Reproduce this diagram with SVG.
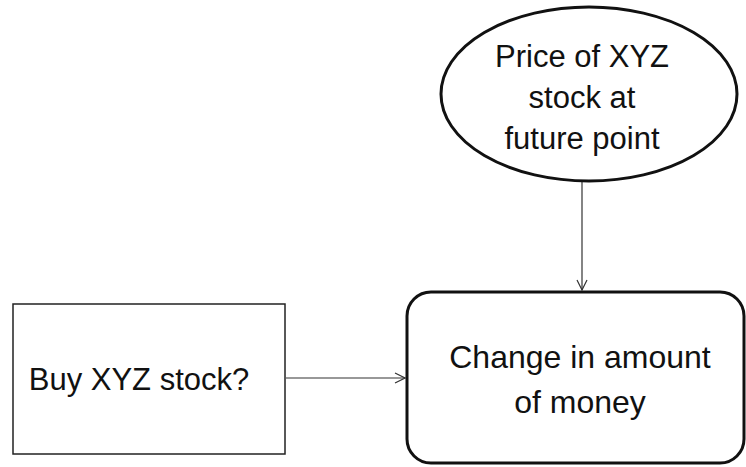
<svg xmlns="http://www.w3.org/2000/svg" width="746" height="467" viewBox="0 0 746 467">
<style>
.t{font-family:"Liberation Sans",Arial,sans-serif;font-size:31px;fill:#111;text-anchor:middle}
.thick{fill:#fff;stroke:#111;stroke-width:3}
.thin{fill:#fff;stroke:#222;stroke-width:1.5}
.conn{fill:none;stroke:#333;stroke-width:1.2}
</style>
<defs>
<marker id="arr" viewBox="0 0 12 12" refX="11" refY="6" markerWidth="12" markerHeight="12" markerUnits="userSpaceOnUse" orient="auto">
<path d="M1,1 L11,6 L1,11" fill="none" stroke="#333" stroke-width="1.2"/>
</marker>
</defs>
<rect width="746" height="467" fill="#fff"/>
<g id="connectors">
<line class="conn" x1="582" y1="182" x2="582" y2="290" marker-end="url(#arr)"/>
<line class="conn" x1="286" y1="378" x2="405" y2="378" marker-end="url(#arr)"/>
</g>
<g id="price">
<ellipse class="thick" cx="589" cy="94" rx="148" ry="87"/>
<text class="t" x="582" y="67">Price of XYZ</text>
<text class="t" x="582" y="108">stock at</text>
<text class="t" x="582" y="149">future point</text>
</g>
<g id="buy">
<rect class="thin" x="13" y="304" width="272" height="150"/>
<text class="t" x="139" y="390">Buy XYZ stock?</text>
</g>
<g id="change">
<rect class="thick" x="407" y="292" width="337" height="171" rx="24" ry="24"/>
<text class="t" x="580" y="368" style="font-size:32px">Change in amount</text>
<text class="t" x="580" y="413" style="font-size:32px">of money</text>
</g>
</svg>
